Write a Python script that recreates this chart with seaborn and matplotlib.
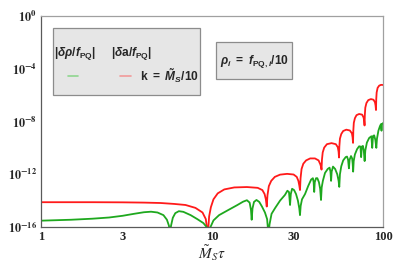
#!/usr/bin/env python3
"""Perturbation amplitudes |δρ/f_PQ| and |δa/f_PQ| against M_S tau (log-log)."""

import matplotlib
matplotlib.use("Agg")
import matplotlib.pyplot as plt
from matplotlib.patches import Rectangle
from matplotlib.ticker import NullLocator
import numpy as np
import pandas as pd
import seaborn as sns

# |δa/f_PQ| (red) as (M_S tau, log10 value)
tau_red = [1.0, 2.0, 3.0, 4.0, 5.0, 6.0, 7.0, 8.0, 8.8, 9.2, 9.46,
           9.62, 9.85, 10.2, 10.8, 11.8, 13.5, 16.0, 18.5, 19.7, 20.3, 20.65, 20.9,
           21.1, 21.5, 22.2, 23.3, 25.0, 27.5, 30.0, 31.3, 32.0, 32.4, 32.7,
           32.95, 33.4, 34.2, 35.5, 37.5, 40.0, 42.0, 43.0, 43.45, 43.7,
           43.95, 44.4, 45.3, 47.0, 50.0, 53.0, 54.4, 55.0, 55.3,
           55.55, 56.0, 57.0, 58.5, 61.0, 64.0, 65.8, 66.4, 66.8,
           67.05, 67.5, 68.5, 70.0, 72.5, 75.5, 77.0, 77.6, 78.0,
           78.3, 78.8, 80.0, 82.0, 85.0, 88.0, 89.8, 90.5, 91.0,
           91.3, 91.8, 93.0, 95.0, 97.5, 100.0]
log_red = [-14.12, -14.12, -14.13, -14.15, -14.18, -14.25, -14.33, -14.55, -14.9, -15.4, -16.6,
           -15.2, -14.5, -13.9, -13.45, -13.15, -13.0, -12.97, -13.03, -13.2, -13.5, -13.9, -14.45,
           -13.6, -12.9, -12.5, -12.2, -12.03, -11.97, -12.02, -12.2, -12.5, -12.85, -13.2,
           -12.3, -11.6, -11.2, -10.95, -10.8, -10.8, -10.95, -11.25, -11.45, -11.65,
           -10.9, -10.35, -9.98, -9.72, -9.64, -9.72, -9.95, -10.3, -10.73,
           -9.9, -9.3, -8.95, -8.72, -8.62, -8.68, -8.9, -9.2, -9.62,
           -8.7, -8.1, -7.75, -7.52, -7.43, -7.48, -7.7, -7.95, -8.3,
           -7.5, -6.95, -6.6, -6.38, -6.3, -6.35, -6.55, -6.8, -7.13,
           -6.3, -5.8, -5.45, -5.28, -5.22, -5.23]

# |δρ/f_PQ| (green)
tau_green = [1.0, 1.5, 2.0, 2.5, 3.0, 3.5, 4.0, 4.4, 4.8, 5.2, 5.45, 5.6, 5.68,
             5.76, 5.9, 6.1, 6.4, 6.8, 7.5, 8.2, 8.9, 9.3, 9.6,
             9.8, 10.2, 11.0, 12.5, 14.0, 15.2, 16.0, 16.6, 16.9, 17.06,
             17.25, 17.6, 18.2, 18.9, 19.6, 20.4, 21.0, 21.4,
             21.7, 22.3, 23.4, 25.0, 26.7, 27.6, 28.2, 28.6,
             28.9, 29.4, 30.2, 31.0, 31.8, 32.4, 32.7,
             33.0, 33.6, 35.0, 36.5, 38.0, 38.9, 39.3, 39.6,
             39.9, 40.6, 41.3, 42.2, 42.9, 43.4,
             43.8, 44.5, 45.8, 47.5, 48.7, 49.3, 49.7,
             50.1, 51.0, 52.5, 54.0, 55.0, 55.5,
             56.0, 57.0, 58.5, 60.5, 61.6, 62.5, 63.2,
             63.8, 65.0, 66.0, 66.5, 66.9,
             67.4, 68.5, 70.5, 72.5, 73.8, 74.5,
             75.2, 76.3, 77.2, 78.1,
             78.8, 80.5, 83.0, 85.5, 86.5,
             87.4, 88.8, 90.2, 91.4,
             92.2, 94.0, 96.0, 97.3, 98.0, 98.7, 100.0]
log_green = [-15.52, -15.45, -15.37, -15.28, -15.15, -15.0, -14.88, -14.84, -14.9, -15.1, -15.45, -15.9, -16.6,
             -15.9, -15.3, -14.95, -14.8, -14.85, -15.1, -15.4, -15.7, -16.0, -16.6,
             -16.0, -15.5, -15.1, -14.7, -14.35, -14.08, -13.97, -14.15, -14.7, -15.45,
             -14.6, -14.1, -13.95, -14.1, -14.45, -14.9, -15.4, -16.6,
             -15.8, -15.0, -14.56, -14.0, -13.57, -13.25, -13.35, -14.33,
             -13.5, -13.1, -13.2, -13.5, -14.0, -14.6, -15.1,
             -14.4, -13.9, -13.5, -12.9, -12.4, -12.3, -12.6, -13.34,
             -12.6, -12.3, -12.3, -12.6, -13.1, -13.95,
             -13.0, -12.5, -11.9, -11.6, -11.5, -11.8, -12.5,
             -11.8, -11.42, -11.6, -12.0, -12.5, -12.96,
             -12.0, -11.4, -10.95, -10.7, -10.66, -10.9, -11.55,
             -10.9, -10.62, -10.8, -11.2, -11.8,
             -11.0, -10.5, -10.1, -9.88, -9.9, -10.7,
             -9.9, -9.85, -10.2, -11.0,
             -10.2, -9.6, -9.25, -9.12, -10.0,
             -9.1, -9.05, -9.4, -10.0,
             -9.3, -8.7, -8.35, -8.2, -8.7, -8.2, -8.12]

x_ticks = [1, 3, 10, 30, 100]
x_ticklabels = ["1", "3", "10", "30", "100"]
y_ticks = [1e-16, 1e-12, 1e-8, 1e-4, 1e0]
y_ticklabels = [r"$\mathbf{10^{-16}}$", r"$\mathbf{10^{-12}}$", r"$\mathbf{10^{-8}}$",
                r"$\mathbf{10^{-4}}$", r"$\mathbf{10^{0}}$"]

RED = "#ff1a1a"
GREEN = "#1ea81e"

sns.set_style("white")
plt.rcParams.update({
    "font.family": ["Liberation Sans", "DejaVu Sans"],
    "mathtext.fontset": "custom",
    "mathtext.rm": "Liberation Sans:bold",
    "mathtext.it": "Liberation Sans:italic:bold",
    "mathtext.bf": "Liberation Sans:bold",
})

red = pd.DataFrame({"tau": tau_red, "amp": 10.0 ** np.array(log_red)})
green = pd.DataFrame({"tau": tau_green, "amp": 10.0 ** np.array(log_green)})

fig = plt.figure(figsize=(3.99, 2.62), dpi=100)
ax = fig.add_axes([41 / 399, 1 - 227 / 262, 342 / 399, 211 / 262])

sns.lineplot(data=red, x="tau", y="amp", color=RED, lw=1.3, ax=ax,
             estimator=None, sort=False)
sns.lineplot(data=green, x="tau", y="amp", color=GREEN, lw=1.3, ax=ax,
             estimator=None, sort=False)

ax.set_xscale("log")
ax.set_yscale("log")
ax.set_xlim(1, 100)
ax.set_ylim(1e-16, 1)
ax.xaxis.set_minor_locator(NullLocator())
ax.yaxis.set_minor_locator(NullLocator())
ax.set_xticks(x_ticks)
ax.set_xticklabels(x_ticklabels, fontfamily="Liberation Serif", fontweight="bold", fontsize=9)
ax.set_yticks(y_ticks)
ax.set_yticklabels(y_ticklabels, math_fontfamily="stix", fontsize=8.8)
ax.tick_params(direction="in", length=2.5, width=0.6, color="#606060", pad=3)
ax.set_ylabel("")
ax.set_xlabel(r"$\tilde{M}_S\tau$", math_fontfamily="stix", fontsize=11, labelpad=0)

for side in ["left", "bottom"]:
    ax.spines[side].set_color("#5a5a5a")
    ax.spines[side].set_linewidth(0.9)
for side in ["top", "right"]:
    ax.spines[side].set_color("#a0a0a0")
    ax.spines[side].set_linewidth(0.9)

# legend-like annotation boxes
ax.add_patch(Rectangle((0.035, 0.626), 0.43, 0.317, transform=ax.transAxes,
                       facecolor="#e6e6e6", edgecolor="#8c8c8c", lw=0.9, zorder=5))
ax.text(0.039, 0.82, r"$|\delta\rho/f_{\mathrm{PQ}}|$", transform=ax.transAxes,
        fontsize=8.6, va="center", ha="left", zorder=6)
ax.text(0.205, 0.82, r"$|\delta\mathrm{a}/f_{\mathrm{PQ}}|$", transform=ax.transAxes,
        fontsize=8.6, va="center", ha="left", zorder=6)
ax.plot([0.079, 0.108], [0.716, 0.716], transform=ax.transAxes, color="#8fd68f",
        lw=1.2, zorder=6)
ax.plot([0.231, 0.263], [0.716, 0.716], transform=ax.transAxes, color="#f29a9a",
        lw=1.2, zorder=6)
ax.text(0.29, 0.716, r"$\mathrm{k}\ =\ \tilde{M}_S/10$", transform=ax.transAxes,
        fontsize=8.6, va="center", ha="left", zorder=6)

ax.add_patch(Rectangle((0.512, 0.701), 0.222, 0.176, transform=ax.transAxes,
                       facecolor="#e6e6e6", edgecolor="#8c8c8c", lw=0.9, zorder=5))
ax.text(0.623, 0.782, r"$\rho_i\ =\ f_{\mathrm{PQ},i}/10$", transform=ax.transAxes,
        fontsize=8.6, va="center", ha="center", zorder=6)

fig.savefig("out.png", dpi=100, facecolor="white")
